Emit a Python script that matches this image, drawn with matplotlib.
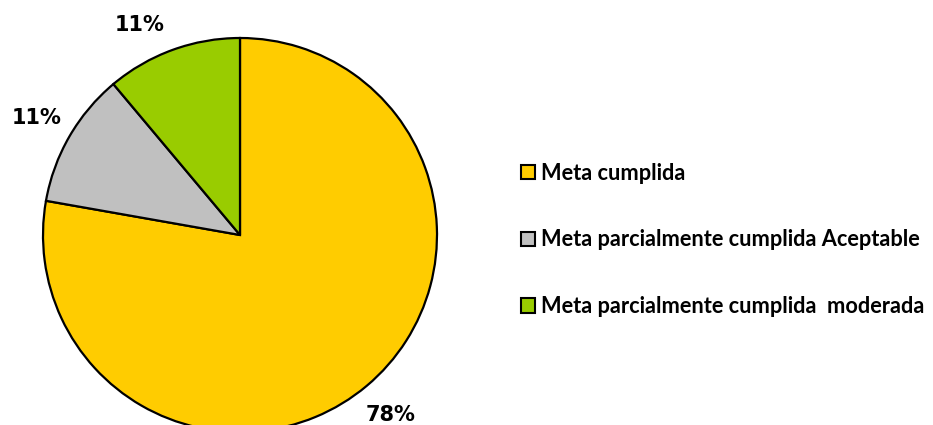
import matplotlib
matplotlib.use("Agg")
from matplotlib import pyplot as plt
import numpy as np

labels = ["Meta cumplida",
          "Meta parcialmente cumplida Aceptable",
          "Meta parcialmente cumplida  moderada"]
values = [7, 1, 1]
colors = ["#FFCC00", "#C0C0C0", "#99CC00"]

W, H = 933, 425
fig = plt.figure(figsize=(W / 100, H / 100), dpi=100)
# pie centre (240,235) px, radius 197 px
cx, cy, r = 240, 235, 197
ax = fig.add_axes([(cx - r) / W, (H - cy - r) / H, 2 * r / W, 2 * r / H])
wedges, texts, autotexts = ax.pie(values, colors=colors, startangle=90, counterclock=False,
                                  autopct=lambda p: "%d%%" % round(p), pctdistance=1.19,
                                  wedgeprops=dict(edgecolor="black", linewidth=1.6),
                                  textprops=dict(fontsize=15, fontweight="bold", family="DejaVu Sans"))
# excel puts the last label a bit further round
a = np.deg2rad(115.5)
autotexts[2].set_position((1.18 * np.cos(a), 1.18 * np.sin(a)))
ax.set_xlim(-1, 1)
ax.set_ylim(-1, 1)
ax.set_aspect("equal")
ax.axis("off")
for w in wedges:
    w.set_clip_on(False)

leg = fig.legend(wedges, labels, loc="center left", bbox_to_anchor=(501 / W, (H - 240) / H),
                 frameon=False, handlelength=0.65, handleheight=0.65, handletextpad=0.3,
                 labelspacing=2.1, prop=dict(family="Lato", weight="bold", size=15.7))
for h in leg.legend_handles:
    h.set_linewidth(1.5)

fig.savefig("out.png", dpi=100)
